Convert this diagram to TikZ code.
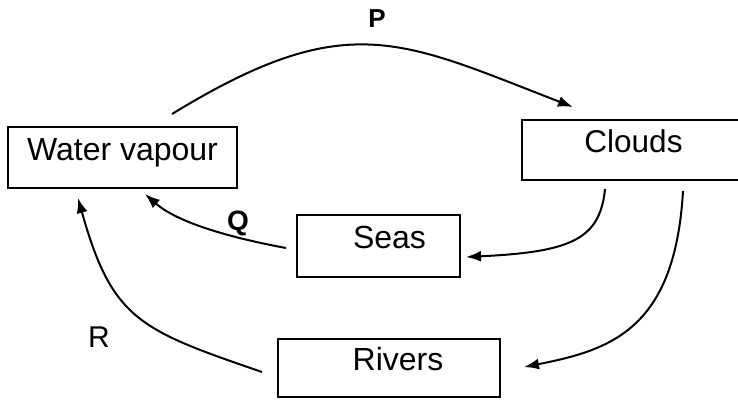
\documentclass[tikz,border=0pt]{standalone}
\usepackage{fontspec}
\setmainfont{Liberation Sans}
\usetikzlibrary{arrows.meta,calc}
\tikzset{
  box/.style={draw, line width=2pt, inner sep=0pt, text height=0.72em, text depth=0.22em,
    font=\fontsize{32}{36}\selectfont},
  flow/.style={line width=2pt, -{Latex[length=15pt,width=11pt]}},
  lbl/.style={inner sep=0pt, font=\fontsize{26}{30}\selectfont}
}
\begin{document}
\begin{tikzpicture}[x=1pt,y=-1pt]
\useasboundingbox (0,0) rectangle (738,400);
\node[box, minimum width=229pt, minimum height=61pt] (wv) at (122.5,157.5) {Water vapour};
\node[box, minimum width=223pt, minimum height=60pt, font=\fontsize{31.5}{36}\selectfont] (clouds) at (633.5,150) {Clouds};
\node[box, minimum width=163pt, minimum height=62pt] (seas) at (378.5,246) {\hspace*{22pt}Seas};
\node[box, minimum width=222pt, minimum height=58pt] (rivers) at (389,368) {\hspace*{18pt}Rivers};

\node[lbl, font=\bfseries\fontsize{26}{30}\selectfont] (P) at (377,19) {P};
\node[lbl, font=\bfseries\fontsize{28}{32}\selectfont] (Q) at (238,223) {Q};
\node[lbl, font=\fontsize{30}{34}\selectfont] (R) at (99,337) {R};

\draw[flow] ([shift={(49.5,-12)}]wv.north) .. controls (347,7) and (400,40) .. ([shift={(-60.5,-12)}]clouds.north);
\draw[flow] ([shift={(-10,2)}]seas.west) .. controls (232,238) and (178,223) .. ([shift={(22.5,5)}]wv.south);
\draw[flow] ([shift={(-15,4)}]rivers.west) .. controls (140,330) and (112,320) .. ([shift={(-44.5,9)}]wv.south);
\draw[flow] ([shift={(-28.5,8)}]clouds.south) .. controls (600,240) and (570,252) .. ([shift={(5,11)}]seas.east);
\draw[flow] ([shift={(49.5,10)}]clouds.south) .. controls (675,330) and (610,350) .. ([shift={(23,-1)}]rivers.east);
\end{tikzpicture}
\end{document}
